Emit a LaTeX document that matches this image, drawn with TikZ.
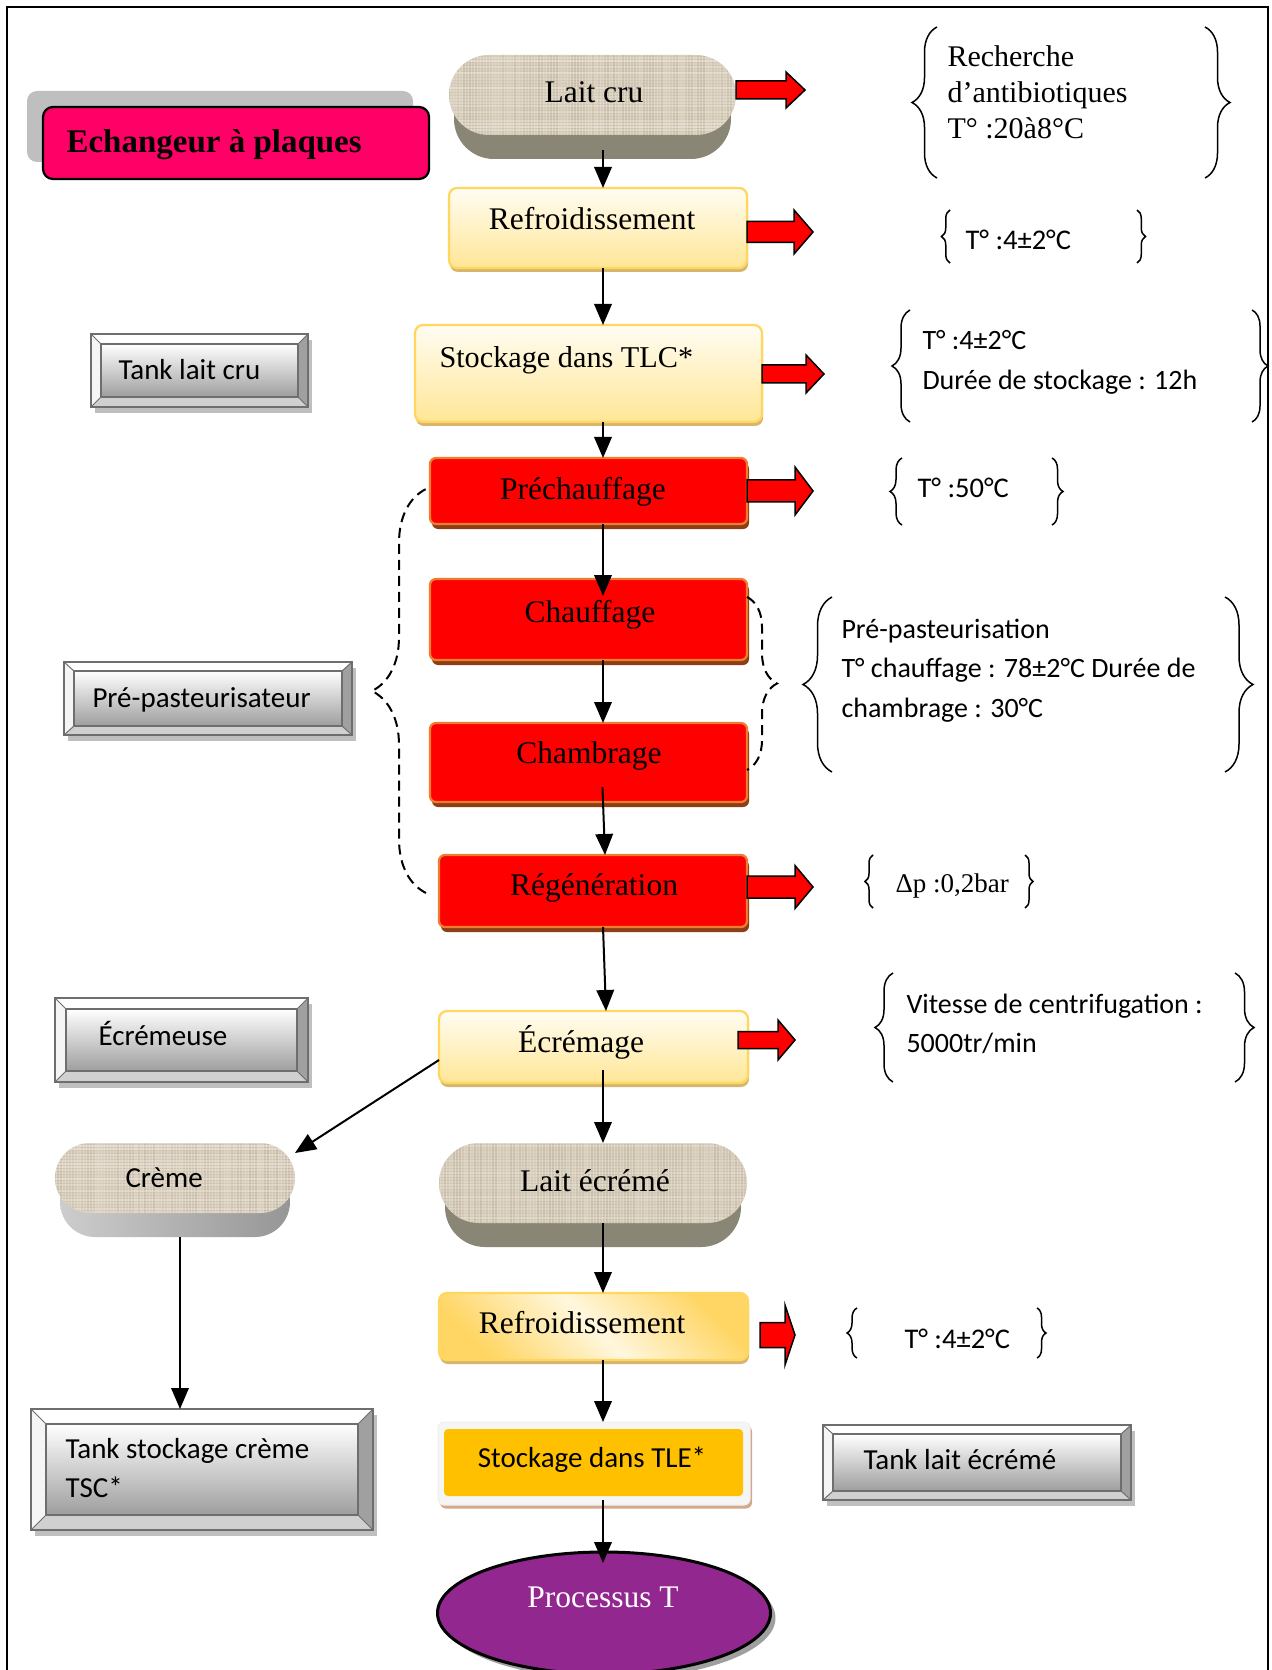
\documentclass[tikz,border=0pt]{standalone}
\usepackage{fontspec}
\setmainfont{Liberation Serif}
\newfontfamily\calfont{Carlito}
\usetikzlibrary{arrows.meta,shapes.misc,shapes.geometric,decorations.pathreplacing,calc,fit}

\definecolor{goldB}{RGB}{255,214,94}
\definecolor{yTop}{RGB}{255,253,243}
\definecolor{yBot}{RGB}{255,230,150}
\definecolor{yShadow}{RGB}{214,182,110}
\definecolor{redB}{RGB}{237,125,49}
\definecolor{redShadow}{RGB}{140,62,20}
\definecolor{pinkF}{RGB}{255,0,102}
\definecolor{echShadow}{RGB}{191,191,191}
\definecolor{linenBase}{RGB}{218,208,191}
\definecolor{linenDark}{RGB}{160,145,120}
\definecolor{linenLight}{RGB}{246,242,232}
\definecolor{sideOlive}{RGB}{138,134,118}
\definecolor{bevLine}{RGB}{110,110,110}
\definecolor{bevRight}{RGB}{160,160,160}
\definecolor{bevBottom}{RGB}{208,208,208}
\definecolor{bevLeft}{RGB}{245,245,245}
\definecolor{bevDark}{RGB}{158,158,158}
\definecolor{bevShadow}{RGB}{191,191,191}
\definecolor{tleOuter}{RGB}{245,245,245}
\definecolor{tleShadow}{RGB}{212,168,138}
\definecolor{tleFill}{RGB}{255,192,0}
\definecolor{procFill}{RGB}{146,39,143}
\definecolor{goldD}{RGB}{255,214,100}
\definecolor{lightD}{RGB}{255,247,222}
\definecolor{cremeL}{RGB}{205,205,205}
\definecolor{cremeD}{RGB}{150,150,150}

\newcommand\tmsbox{\fontsize{12.6pt}{15pt}\selectfont}
\newcommand\calbox{\calfont\fontsize{11.6pt}{15.6pt}\selectfont}

\tikzset{
  flow/.style={line width=0.8pt, -{Triangle[length=8.4pt,width=7pt]}},
  ybox/.style={rectangle, rounded corners=3.2pt, draw=goldB, line width=0.9pt, top color=yTop, bottom color=yBot, inner sep=0, outer sep=0},
  yshadow/.style={rectangle, rounded corners=3.2pt, fill=yShadow, inner sep=0},
  rbox/.style={rectangle, rounded corners=2.4pt, draw=redB, line width=0.9pt, fill=red, inner sep=0, outer sep=0},
  rshadow/.style={rectangle, rounded corners=2.4pt, fill=redShadow, inner sep=0},
  lbl/.style={inner sep=0, anchor=base},
  lblw/.style={inner sep=0, anchor=base west},
  nbrace/.style={decorate, decoration={brace, amplitude=#1}, line width=0.6pt},
  blk/.style={fill=red, draw=black, line width=0.6pt, line join=miter},
  linen/.style={fill=linenBase, path picture={%
    \foreach \k in {0,3,...,330}{%
      \pgfmathsetmacro\lnop{0.06+0.3*rnd}%
      \draw[linenDark, line width=0.5pt, opacity=\lnop] ([xshift=\k*0.4pt]path picture bounding box.north west) -- ([xshift=\k*0.4pt]path picture bounding box.south west);}
    \foreach \k in {0,3,...,90}{%
      \pgfmathsetmacro\lnop{0.1+0.4*rnd}%
      \draw[linenLight, line width=0.5pt, opacity=\lnop] ([yshift=-\k*0.4pt]path picture bounding box.north west) -- ([yshift=-\k*0.4pt]path picture bounding box.north east);}
  }},
  pill/.style={rounded rectangle, inner sep=0, outer sep=0}
}

\newcommand\ynode[5]{%
  \node[yshadow, minimum width=#4*0.4pt, minimum height=#5*0.4pt] (#1-sh) at (#2+1,#3+4) {};
  \node[ybox, minimum width=#4*0.4pt, minimum height=#5*0.4pt] (#1) at (#2,#3) {};}
\newcommand\rnode[5]{%
  \node[rshadow, minimum width=#4*0.4pt, minimum height=#5*0.4pt] (#1-sh) at (#2+2,#3+5) {};
  \node[rbox, minimum width=#4*0.4pt, minimum height=#5*0.4pt] (#1) at (#2,#3) {};}
\newcommand\bevbox[7]{%
  \fill[bevShadow] (#2+4,#3+6) rectangle (#4+4,#5+6);
  \fill[bevLeft] (#2,#3) rectangle (#4,#5);
  \fill[white] (#2,#3) -- (#4,#3) -- (#4-#6,#3+#7) -- (#2+#6,#3+#7) -- cycle;
  \fill[bevRight] (#4,#3) -- (#4,#5) -- (#4-#6,#5-#7) -- (#4-#6,#3+#7) -- cycle;
  \fill[bevBottom] (#2,#5) -- (#4,#5) -- (#4-#6,#5-#7) -- (#2+#6,#5-#7) -- cycle;
  \shade[top color=white, bottom color=bevDark] (#2+#6,#3+#7) rectangle (#4-#6,#5-#7);
  \draw[bevLine, line width=0.4pt] (#2,#3) -- (#2+#6,#3+#7) (#4,#3) -- (#4-#6,#3+#7) (#2,#5) -- (#2+#6,#5-#7) (#4,#5) -- (#4-#6,#5-#7);
  \draw[bevLine, line width=0.8pt] (#2+#6,#3+#7) rectangle (#4-#6,#5-#7);
  \draw[bevLine, line width=0.9pt] (#2,#3) rectangle (#4,#5);
  \coordinate (#1-nw) at (#2,#3); \coordinate (#1-se) at (#4,#5);
  \node[fit=(#1-nw)(#1-se), inner sep=0, outer sep=0] (#1) {};}
\newcommand\blkarrow[6]{%
  \draw[blk] (#1,#4-#5) -- (#2,#4-#5) -- (#2,#4-#6) -- (#3,#4) -- (#2,#4+#6) -- (#2,#4+#5) -- (#1,#4+#5) -- cycle;}

\begin{document}
\begin{tikzpicture}[x=0.4pt,y=-0.4pt]
\pgfmathsetseed{7}
\useasboundingbox (0,0) rectangle (1271,1670);
\fill[white] (0,0) rectangle (1271,1670);
\draw[line width=0.9pt] (7,1690) -- (7,7) -- (1268,7) -- (1268,1690);

% Echangeur a plaques
\node[rectangle, rounded corners=4pt, fill=echShadow, minimum width=386*0.4pt, minimum height=71*0.4pt, inner sep=0] (ech-sh) at (220,126.5) {};
\node[rectangle, rounded corners=4pt, fill=pinkF, draw=black, line width=0.9pt, minimum width=386*0.4pt, minimum height=72*0.4pt, inner sep=0] (ech) at (236,143) {};
\node[lblw] (ech-t) at (66,153) {\fontsize{13.2pt}{15pt}\selectfont\bfseries Echangeur à plaques};

% Lait cru
\node[pill, minimum width=277*0.4pt, minimum height=80*0.4pt, fill=sideOlive] (lc-side) at (592.5,119) {};
\node[pill, minimum width=287*0.4pt, minimum height=80*0.4pt, linen] (lc) at (592.5,95) {};

% yellow boxes
\ynode{r1}{598}{228}{298}{80}
\ynode{stk}{588.5}{373.5}{347}{97}
\ynode{ecr}{593.5}{1047}{309}{72}
% second refroidissement (diagonal gradient)
\node[yshadow, minimum width=309*0.4pt, minimum height=67*0.4pt] (r2-sh) at (594.5,1330.5) {};
\node[rectangle, rounded corners=3.2pt, draw=goldB, line width=0.9pt, left color=goldD, right color=goldD, middle color=lightD, shading angle=135, inner sep=0, outer sep=0, minimum width=309*0.4pt, minimum height=67*0.4pt] (r2) at (593.5,1326.5) {};

% red boxes
\rnode{pre}{588.5}{491}{317}{66}
\rnode{chf}{588.5}{619.5}{317}{81}
\rnode{chb}{588.5}{762.5}{317}{79}
\rnode{reg}{593}{891}{308}{72}

% bevel boxes
\bevbox{tlc}{91}{334}{308}{407}{10}{10}
\bevbox{ppa}{64}{662}{352}{735}{10}{9}
\bevbox{ecm}{55}{998}{308}{1082}{11}{11}
\bevbox{tsc}{31}{1409}{373}{1530}{15}{15}
\bevbox{tle2}{823}{1425}{1131}{1500}{10}{9}

% Creme and Lait ecreme
\node[pill, minimum width=230*0.4pt, minimum height=70*0.4pt, left color=cremeL, right color=cremeD] (crm-side) at (175,1202) {};
\node[pill, minimum width=240*0.4pt, minimum height=70*0.4pt, linen] (crm) at (175,1178) {};
\node[pill, minimum width=296*0.4pt, minimum height=80*0.4pt, fill=sideOlive] (lec-side) at (593,1207) {};
\node[pill, minimum width=308*0.4pt, minimum height=80*0.4pt, linen] (lec) at (593,1183) {};

% Stockage dans TLE
\node[rectangle, rounded corners=2.4pt, fill=tleShadow, minimum width=312*0.4pt, minimum height=83*0.4pt, inner sep=0] (tle-sh) at (596,1467) {};
\node[rectangle, rounded corners=2.4pt, fill=tleOuter, draw=gray!12, line width=0.4pt, minimum width=312*0.4pt, minimum height=83*0.4pt, inner sep=0, outer sep=0] (tle) at (594,1463.5) {};
\node[rectangle, rounded corners=1.6pt, fill=tleFill, minimum width=299*0.4pt, minimum height=67*0.4pt, inner sep=0] (tle-in) at (593.5,1462.5) {};

% Processus T
\node[ellipse, fill=gray!75, minimum width=333*0.4pt, minimum height=122*0.4pt, inner sep=0] (proc-sh) at (609,1618) {};
\node[ellipse, fill=procFill, draw=black, line width=1.2pt, minimum width=333*0.4pt, minimum height=122*0.4pt, inner sep=0, outer sep=0] (proc) at (604,1613) {};

% dashed braces
\draw[nbrace=21.6pt, dash pattern=on 4pt off 2.4pt, line width=0.8pt] (426,893) -- (426,489);
\draw[nbrace=12pt, dash pattern=on 4pt off 2.4pt, line width=0.8pt] (747,597) -- (747,770);

% connectors
\coordinate (mc) at (603,0);
\coordinate (cc) at (180,0);
\draw[flow, shorten <=6pt] (lc.south -| mc) -- (r1.north -| mc);
\draw[flow] (r1.south -| mc) -- (stk.north -| mc);
\draw[flow] (stk.south -| mc) -- (pre.north -| mc);
\draw[flow, shorten >=-6.8pt] (pre.south -| mc) -- (chf.north -| mc);
\draw[flow] (chf.south -| mc) -- (chb.north -| mc);
\draw[flow, shorten <=-6pt] (chb.south -| mc) -- ([xshift=0.8pt]reg.north -| mc);
\draw[flow] (reg.south -| mc) -- ([xshift=1.2pt]ecr.north -| mc);
\draw[flow, shorten <=-5.2pt] (ecr.south -| mc) -- (lec.north -| mc);
\draw[flow] ([yshift=-5.2pt]ecr.west) -- ([yshift=10pt]crm.east);
\draw[flow] (crm-side.south -| cc) -- (tsc.north -| cc);
\draw[flow] (lec.south -| mc) -- (r2.north -| mc);
\draw[flow] (r2.south -| mc) -- (tle.north -| mc);
\draw[flow, shorten <=-2pt, shorten >=-4.4pt] (tle.south -| mc) -- (proc.north -| mc);

% red block arrows
\blkarrow{736}{786}{805}{90}{9}{18}
\blkarrow{747}{794}{813}{232}{10.5}{22}
\blkarrow{762}{806}{824}{374}{9}{19}
\blkarrow{747}{795}{813}{491}{11}{24}
\blkarrow{747}{795}{813}{887}{11}{21.5}
\blkarrow{738}{778}{795}{1040}{8.5}{20}
\blkarrow{760}{785}{795}{1335}{12.5}{30}

% note braces
\draw[nbrace=10pt] (937,178) -- (937,27);
\draw[nbrace=10pt] (1205,27) -- (1205,178);
\draw[nbrace=3.4pt] (950,263) -- (950,210);
\draw[nbrace=3.4pt] (1137,210) -- (1137,263);
\draw[nbrace=7.2pt] (910,422) -- (910,310);
\draw[nbrace=6.4pt] (1252,310) -- (1252,422);
\draw[nbrace=4.8pt] (902,525) -- (902,458);
\draw[nbrace=4.4pt] (1052,458) -- (1052,525);
\draw[nbrace=11.6pt] (832,772) -- (832,597);
\draw[nbrace=11.2pt] (1225,597) -- (1225,772);
\draw[nbrace=3.2pt] (873,908) -- (873,855);
\draw[nbrace=3.2pt] (1025,855) -- (1025,908);
\draw[nbrace=7.2pt] (893,1082) -- (893,973);
\draw[nbrace=7.6pt] (1235,973) -- (1235,1082);
\draw[nbrace=4pt] (857,1358) -- (857,1308);
\draw[nbrace=3.6pt] (1037,1308) -- (1037,1358);

% box labels
\node[lbl] (lc-t) at (594,103) {\tmsbox Lait cru};
\node[lbl] (r1-t) at (592,230) {\tmsbox Refroidissement};
\node[lblw] (stk-t) at (439,368) {\fontsize{12.1pt}{15pt}\selectfont Stockage dans TLC*};
\node[lbl] (pre-t) at (583,500) {\tmsbox Préchauffage};
\node[lbl] (chf-t) at (590,622) {\tmsbox Chauffage};
\node[lbl] (chb-t) at (589,763) {\tmsbox Chambrage};
\node[lbl] (reg-t) at (594,895) {\tmsbox Régénération};
\node[lbl] (ecr-t) at (581,1052) {\tmsbox Écrémage};
\node[lbl] (lec-t) at (595,1191) {\tmsbox Lait écrémé};
\node[lbl] (r2-t) at (582,1333) {\tmsbox Refroidissement};
\node[lbl] (tle-t) at (592,1467) {\calbox Stockage dans TLE*};
\node[lbl, text=white] (proc-t) at (603,1607) {\tmsbox Processus T};
\node[lblw] (crm-t) at (125,1187) {\calbox Crème};
\node[lblw] (tlc-t) at (118,380) {\calbox Tank lait cru};
\node[lblw] (ppa-t) at (92,707) {\calbox Pré-pasteurisateur};
\node[lblw] (ecm-t) at (98,1045) {\calbox Écrémeuse};
\node[lblw] (tle2-t) at (863,1469) {\calbox Tank lait écrémé};
\node[lblw] (tsc-t) at (65,1458) {\calfont\fontsize{11.6pt}{15.6pt}\selectfont\begin{tabular}[t]{@{}l@{}}Tank stockage crème\\TSC*\end{tabular}};

% notes
\node[lblw] (nA) at (947,67) {\fontsize{12pt}{14.4pt}\selectfont\begin{tabular}[t]{@{}l@{}}Recherche\\d’antibiotiques\\T° :20à8°C\end{tabular}};
\node[lblw] (nB) at (965,250) {\calfont\fontsize{11.4pt}{15.8pt}\selectfont T° :4±2°C};
\node[lblw] (nC) at (922,350) {\calfont\fontsize{11.2pt}{16pt}\selectfont\begin{tabular}[t]{@{}l@{}}T° :4±2°C\\Durée de stockage : 12h\end{tabular}};
\node[lblw] (nD) at (917,498) {\calfont\fontsize{11.4pt}{15.8pt}\selectfont T° :50°C};
\node[lblw] (nE) at (841,638) {\calfont\fontsize{11.2pt}{15.8pt}\selectfont\begin{tabular}[t]{@{}l@{}}Pré-pasteurisation\\T° chauffage : 78±2°C Durée de\\chambrage : 30°C\end{tabular}};
\node[lblw] (nF) at (895,892) {\fontsize{10.8pt}{13pt}\selectfont Δp :0,2bar};
\node[lblw] (nG) at (906,1013) {\calfont\fontsize{11.2pt}{15.6pt}\selectfont\begin{tabular}[t]{@{}l@{}}Vitesse de centrifugation :\\5000tr/min\end{tabular}};
\node[lblw] (nH) at (904,1348) {\calfont\fontsize{11.4pt}{15.8pt}\selectfont T° :4±2°C};
\end{tikzpicture}
\end{document}
